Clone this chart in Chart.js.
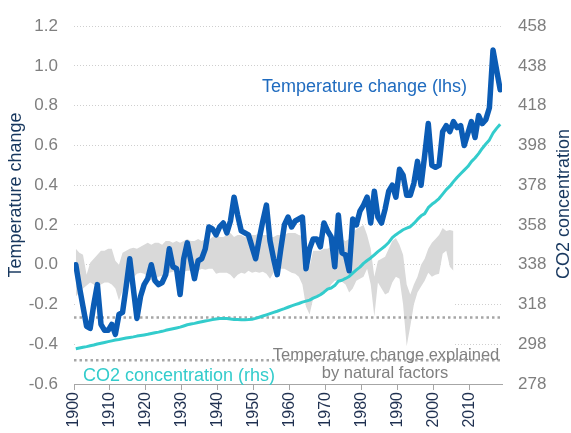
<!DOCTYPE html>
<html>
<head>
<meta charset="utf-8">
<script src="https://cdn.jsdelivr.net/npm/chart.js@4.4.1/dist/chart.umd.min.js"></script>
<style>
  html, body { margin: 0; padding: 0; background: #fff; }
</style>
</head>
<body>
<canvas id="climateChart" width="571" height="433"></canvas>
<script>
// Temperature change vs CO2 concentration, 1900-2018
const firstYear = 1900;

// temperature change (lhs), one value per year 1900..2018
const tempChange = [
  0.00, -0.11, -0.21, -0.31, -0.32, -0.20, -0.10, -0.30, -0.33, -0.33,
  -0.30, -0.35, -0.25, -0.24, -0.11, 0.03, -0.12, -0.27, -0.16, -0.10,
  -0.07, 0.00, -0.08, -0.10, -0.09, -0.05, 0.08, -0.01, -0.02, -0.15,
  0.03, 0.11, 0.02, -0.07, 0.02, 0.03, 0.08, 0.19, 0.18, 0.15,
  0.19, 0.21, 0.16, 0.22, 0.34, 0.25, 0.17, 0.16, 0.15, 0.09,
  0.03, 0.13, 0.22, 0.30, 0.12, 0.03, -0.05, 0.08, 0.20, 0.24,
  0.19, 0.22, 0.23, 0.24, -0.02, 0.08, 0.13, 0.13, 0.09, 0.21,
  0.17, 0.14, -0.01, 0.25, 0.06, 0.05, -0.03, 0.23, 0.20, 0.27,
  0.30, 0.34, 0.21, 0.37, 0.24, 0.21, 0.28, 0.37, 0.40, 0.34,
  0.48, 0.45, 0.35, 0.35, 0.41, 0.52, 0.40, 0.55, 0.71, 0.50,
  0.49, 0.50, 0.67, 0.70, 0.67, 0.72, 0.69, 0.70, 0.60, 0.66,
  0.72, 0.64, 0.75, 0.71, 0.73, 0.79, 1.08, 0.98, 0.88
];

// CO2 concentration (rhs), ppm, 1900..2018
const co2Ppm = [
  295.7, 296.1, 296.5, 296.8, 297.2, 297.6, 298.1, 298.5, 298.9, 299.3,
  299.7, 300.1, 300.4, 300.8, 301.1, 301.4, 301.7, 302.1, 302.4, 302.7,
  303.0, 303.4, 303.8, 304.1, 304.5, 305.0, 305.4, 305.8, 306.2, 306.6,
  307.2, 307.8, 308.2, 308.5, 308.9, 309.3, 309.7, 310.0, 310.4, 310.7,
  310.9, 311.0, 310.9, 310.7, 310.5, 310.4, 310.3, 310.3, 310.4, 310.6,
  311.0, 311.6, 312.2, 312.8, 313.4, 314.0, 314.6, 315.3, 315.9, 316.6,
  317.3, 317.9, 318.5, 319.2, 319.7, 320.2, 321.2, 322.0, 322.9, 324.2,
  325.7, 326.3, 327.5, 329.7, 330.2, 331.1, 332.1, 333.8, 335.4, 336.8,
  338.7, 340.1, 341.4, 343.0, 344.6, 346.0, 347.4, 349.2, 351.6, 353.1,
  354.4, 355.6, 356.4, 357.1, 358.8, 360.8, 362.6, 363.7, 366.7, 368.4,
  369.7, 371.3, 373.5, 375.8, 377.5, 379.8, 381.9, 383.8, 385.6, 387.4,
  389.9, 391.7, 393.9, 396.5, 398.7, 400.8, 404.2, 406.6, 408.7
];

// range of temperature change explained by natural factors, 1900..2005
const naturalHigh = [
  0.08, 0.06, 0.05, -0.05, 0.01, 0.03, 0.05, 0.07, 0.07, 0.08,
  0.08, 0.02, 0.00, 0.06, 0.07, 0.08, 0.085, 0.08, 0.09, 0.10,
  0.11, 0.10, 0.11, 0.11, 0.10, 0.12, 0.12, 0.11, 0.12, 0.11,
  0.12, 0.13, 0.12, 0.12, 0.13, 0.12, 0.13, 0.125, 0.14, 0.15,
  0.14, 0.14, 0.15, 0.16, 0.14, 0.15, 0.15, 0.14, 0.14, 0.15,
  0.15, 0.16, 0.15, 0.15, 0.14, 0.14, 0.15, 0.15, 0.15, 0.16,
  0.16, 0.16, 0.15, 0.145, 0.05, -0.01, 0.07, 0.07, 0.07, 0.08,
  0.08, 0.09, 0.14, 0.15, 0.13, 0.12, 0.13, 0.16, 0.18, 0.19,
  0.20, 0.15, 0.08, -0.06, 0.02, 0.03, 0.04, 0.08, 0.12, 0.135,
  0.10, 0.05, -0.10, -0.15, -0.10, -0.06, 0.00, 0.03, 0.08, 0.11,
  0.13, 0.15, 0.185, 0.17, 0.175, 0.17
];
const naturalLow = [
  -0.16, -0.14, -0.12, -0.105, -0.09, -0.10, -0.11, -0.10, -0.09, -0.09,
  -0.10, -0.12, -0.18, -0.13, -0.10, -0.08, -0.065, -0.045, -0.04, -0.045,
  -0.06, -0.08, -0.07, -0.06, -0.055, -0.05, -0.04, -0.035, -0.03, -0.03,
  -0.035, -0.03, -0.03, -0.025, -0.03, -0.02, -0.025, -0.02, -0.02, -0.045,
  -0.04, -0.04, -0.04, -0.05, -0.07, -0.05, -0.04, -0.045, -0.03, -0.04,
  -0.035, -0.04, -0.035, -0.045, -0.07, -0.04, -0.015, -0.02, -0.02, -0.03,
  -0.04, -0.045, -0.06, -0.10, -0.21, -0.25, -0.17, -0.155, -0.15, -0.14,
  -0.13, -0.10, -0.08, -0.08, -0.085, -0.10, -0.14, -0.12, -0.08, -0.07,
  -0.06, -0.02, -0.10, -0.26, -0.09, -0.12, -0.15, -0.14, -0.09, -0.06,
  -0.07, -0.20, -0.41, -0.31, -0.20, -0.14, -0.11, -0.08, -0.04, -0.06,
  -0.05, -0.045, 0.055, 0.07, -0.01, -0.03
];

// dotted reference levels
const naturalLevels = [-0.265, -0.48];

const tempTicks = [-0.6, -0.4, -0.2, 0.0, 0.2, 0.4, 0.6, 0.8, 1.0, 1.2];
const co2Ticks = [278, 298, 318, 338, 358, 378, 398, 418, 438, 458];
const yearTicks = [1900, 1910, 1920, 1930, 1940, 1950, 1960, 1970, 1980, 1990, 2000, 2010];

// each annual point sits in the middle of its year
const toPoints = arr => arr.map((v, i) => ({ x: firstYear + i + 0.5, y: v }));
const levelLine = v => [{ x: 1900, y: v }, { x: 2019, y: v }];

const FONT = '"Liberation Sans", Arial, sans-serif';

const textPlugin = {
  id: 'textPlugin',
  afterDatasetsDraw(chart) {
    const ctx = chart.ctx;
    ctx.save();
    ctx.textBaseline = 'middle';

    ctx.font = '18px ' + FONT;
    ctx.textAlign = 'left';
    ctx.fillStyle = '#1f6bbf';
    ctx.fillText('Temperature change (lhs)', 262, 87);
    ctx.fillStyle = '#33cccc';
    ctx.fillText('CO2 concentration (rhs)', 83, 376);

    ctx.font = '16.5px ' + FONT;
    ctx.textAlign = 'center';
    ctx.fillStyle = '#808080';
    ctx.fillText('Temperature change explained', 386, 355);
    ctx.fillText('by natural factors', 385, 373);

    // axis titles, both reading bottom to top
    ctx.font = '18px ' + FONT;
    ctx.fillStyle = '#17375e';
    ctx.translate(16, 195);
    ctx.rotate(-Math.PI / 2);
    ctx.fillText('Temperature change', 0, 0);
    ctx.setTransform(1, 0, 0, 1, 0, 0);
    ctx.translate(564, 204);
    ctx.rotate(-Math.PI / 2);
    ctx.fillText('CO2 concentration', 0, 0);
    ctx.restore();
  }
};

const ctx = document.getElementById('climateChart').getContext('2d');
const climateChart = new Chart(ctx, {
  type: 'line',
  data: {
    datasets: [
      {
        // white under the band hides the grid, as in the original
        data: toPoints(naturalLow),
        borderWidth: 0,
        pointRadius: 0,
        fill: { value: -0.595 },
        backgroundColor: '#ffffff',
        order: 10
      },
      {
        data: toPoints(naturalHigh),
        borderWidth: 0,
        pointRadius: 0,
        fill: '-1',
        backgroundColor: '#d9d9d9',
        order: 9
      },
      {
        data: levelLine(naturalLevels[0]),
        borderColor: '#a6a6a6',
        borderWidth: 2.5,
        borderDash: [2.5, 3],
        pointRadius: 0,
        fill: false,
        order: 8
      },
      {
        data: levelLine(naturalLevels[1]),
        borderColor: '#a6a6a6',
        borderWidth: 2.5,
        borderDash: [2.5, 3],
        pointRadius: 0,
        fill: false,
        order: 7
      },
      {
        data: toPoints(co2Ppm),
        yAxisID: 'y2',
        borderColor: '#33cccc',
        borderWidth: 3,
        borderJoinStyle: 'round',
        pointRadius: 0,
        fill: false,
        order: 2
      },
      {
        data: toPoints(tempChange),
        yAxisID: 'y',
        borderColor: '#0b5cb5',
        borderWidth: 5.5,
        borderJoinStyle: 'round',
        borderCapStyle: 'round',
        pointRadius: 0,
        fill: false,
        order: 1
      }
    ]
  },
  options: {
    responsive: false,
    animation: false,
    layout: { padding: { top: 24, left: 0, right: 0, bottom: 0 } },
    plugins: {
      legend: { display: false },
      tooltip: { enabled: false }
    },
    scales: {
      x: {
        type: 'linear',
        min: 1900,
        max: 2019,
        afterBuildTicks: s => { s.ticks = yearTicks.map(v => ({ value: v })); },
        afterFit: s => { s.height = 49; },
        ticks: {
          minRotation: 90,
          maxRotation: 90,
          padding: 2,
          color: '#1f3050',
          font: { family: FONT, size: 16 },
          callback: v => String(v)
        },
        grid: {
          drawOnChartArea: false,
          drawTicks: true,
          tickLength: 6,
          tickColor: '#a6a6a6'
        },
        border: { display: true, color: '#a6a6a6', width: 1 }
      },
      y: {
        position: 'left',
        min: -0.6,
        max: 1.2,
        afterBuildTicks: s => { s.ticks = tempTicks.map(v => ({ value: v })); },
        afterFit: s => { s.width = 74; },
        ticks: {
          padding: 16,
          color: '#7f7f7f',
          font: { family: FONT, size: 17 },
          callback: v => v.toFixed(1)
        },
        grid: { drawTicks: false, color: '#cfcfcf', lineWidth: 1 },
        border: { display: false, dash: [1, 2] }
      },
      y2: {
        position: 'right',
        min: 278,
        max: 458,
        afterBuildTicks: s => { s.ticks = co2Ticks.map(v => ({ value: v })); },
        afterFit: s => { s.width = 69; },
        ticks: {
          padding: 16,
          color: '#7f7f7f',
          font: { family: FONT, size: 17 }
        },
        grid: { display: false, drawTicks: false },
        border: { display: false }
      }
    }
  },
  plugins: [textPlugin]
});
</script>
</body>
</html>
